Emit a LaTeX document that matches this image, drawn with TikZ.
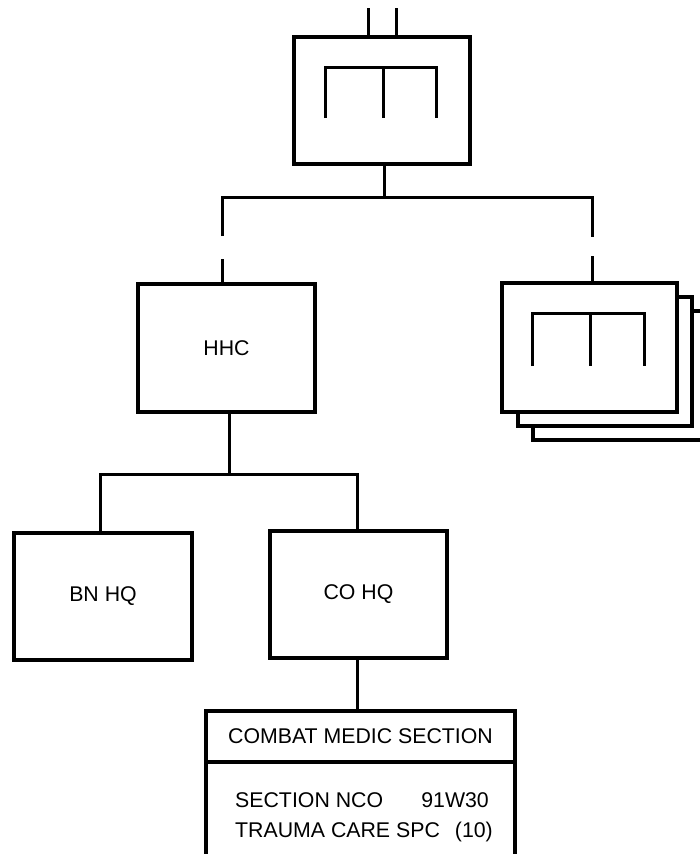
\documentclass[tikz,border=0pt]{standalone}
\usepackage{fontspec}
\setmainfont{Liberation Sans}
\begin{document}
\begin{tikzpicture}[x=1pt,y=-1pt,
  unitbox/.style={draw,line width=3.4pt,fill=white,rectangle,inner sep=0pt,outer sep=0pt,font=\fontsize{21.3}{25}\selectfont},
  conn/.style={line width=3pt},
  lbl/.style={inner sep=0pt,font=\fontsize{21.3}{25}\selectfont}]
\useasboundingbox (0,0) rectangle (700,854);
% top unit
\node[unitbox,minimum width=176pt,minimum height=127pt] (top) at (382,100.5) {};
\draw[conn] (325,118) -- (325,67) -- (436,67) -- (436,118);
\draw[conn] (383,67) -- (383,118);
\coordinate (t1) at (368,8);
\coordinate (t2) at (396,8);
\draw[conn] (t1) -- (t1 |- top.north);
\draw[conn] (t2) -- (t2 |- top.north);
% stacked right units
\node[unitbox,minimum width=174pt,minimum height=129pt] (r3) at (620,375.5) {};
\node[unitbox,minimum width=174pt,minimum height=129pt] (r2) at (605,361.5) {};
\node[unitbox,minimum width=175pt,minimum height=129pt] (r1) at (589.5,347.5) {};
\draw[conn] (532,366) -- (532,313) -- (644,313) -- (644,366);
\draw[conn] (590,313) -- (590,366);
% HHC
\node[unitbox,minimum width=177pt,minimum height=128pt] (hhc) at (226.5,348) {HHC};
% BN HQ, CO HQ
\node[unitbox,minimum width=178pt,minimum height=127pt] (bn) at (103,596.5) {BN HQ};
\node[unitbox,minimum width=177pt,minimum height=127pt] (co) at (358.5,594.5) {CO HQ};
% section
\node[unitbox,minimum width=309pt,minimum height=51pt] (sec) at (360.5,736.5) {COMBAT MEDIC SECTION};
\coordinate (secbl) at (206,860);
\coordinate (secbr) at (515,860);
\draw[line width=3.4pt] (sec.south west) -- (secbl);
\draw[line width=3.4pt] (sec.south east) -- (secbr);
\node[lbl,anchor=base west] (nco) at (235,807) {SECTION NCO};
\node[lbl,anchor=base east] (mos) at (489,807) {91W30};
\node[lbl,anchor=base west] (tcs) at (235,837) {TRAUMA CARE SPC};
\node[lbl,anchor=base east] (cnt) at (493,837) {(10)};
% connectors upper
\coordinate (s1) at (384,197);
\coordinate (bl) at (222,197);
\coordinate (br) at (592,197);
\coordinate (gl1) at (222,236);
\coordinate (gl2) at (222,259);
\coordinate (gr1) at (592,237);
\coordinate (gr2) at (592,256);
\draw[conn] (s1 |- top.south) -- (s1);
\draw[conn] (gl1) -- (bl) -- (br) -- (gr1);
\draw[conn] (gl2) -- (gl2 |- hhc.north);
\draw[conn] (gr2) -- (gr2 |- r1.north);
% connectors lower
\coordinate (h1) at (229,474);
\coordinate (hl) at (100,474);
\coordinate (hr) at (357,474);
\draw[conn] (h1 |- hhc.south) -- (h1);
\draw[conn] (hl |- bn.north) -- (hl) -- (hr) -- (hr |- co.north);
\coordinate (c1) at (357,700);
\draw[conn] (c1 |- co.south) -- (c1 |- sec.north);
\end{tikzpicture}
\end{document}
